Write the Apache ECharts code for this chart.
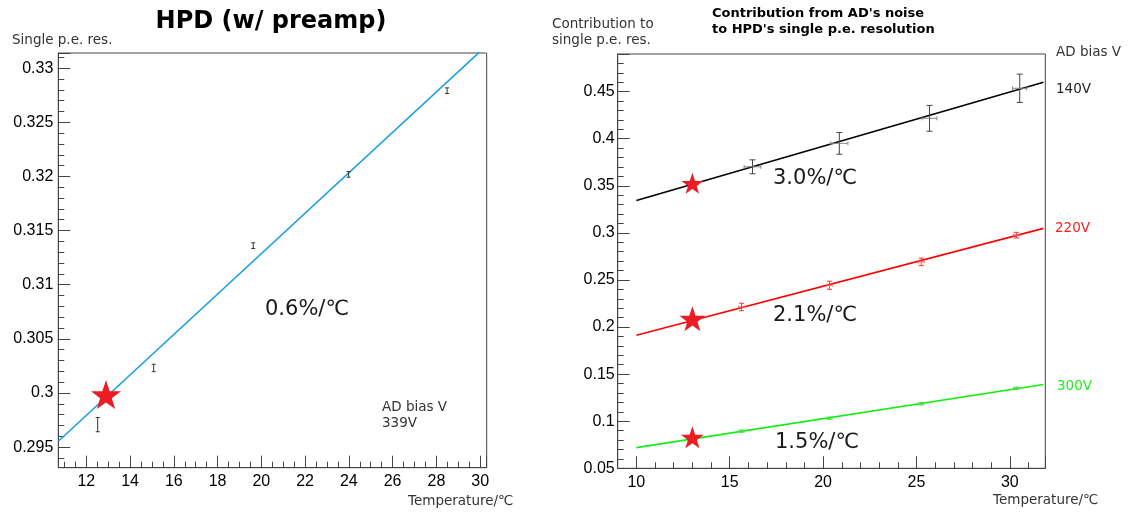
<!DOCTYPE html>
<html><head><meta charset="utf-8">
<script src="https://cdn.jsdelivr.net/npm/echarts@6/dist/echarts.min.js"></script>
<style>html,body{margin:0;padding:0;background:#fff}#c{width:1133px;height:512px}</style>
</head><body><div id="c"></div>
<script>
// ---- Left panel: HPD (w/ preamp) ----
const hpdTemp = [12.52, 15.08, 19.63, 23.99, 28.49];
const hpdRes  = [0.29708, 0.30231, 0.31361, 0.32019, 0.32792];
const hpdErr  = [0.00066, 0.00034, 0.00026, 0.00026, 0.00026];
const hpdFitT   = [10.72, 30.3];
const hpdFitRes = [0.29554, 0.33210];
const hpdStar = [12.9, 0.29985];
const hpdSlope = '0.6%/℃';
const hpdBias = ['AD bias V', '339V'];

// ---- Right panel: contribution from AD noise ----
const biasLabels = ['140V', '220V', '300V'];
const slopeLabels = ['3.0%/℃', '2.1%/℃', '1.5%/℃'];
const adTemp140 = [16.22, 20.87, 25.70, 30.53];
const ad140     = [0.3702, 0.3951, 0.4217, 0.4536];
const ad140TErr = [0.45, 0.46, 0.40, 0.38];
const ad140Err  = [0.0074, 0.0115, 0.0137, 0.0150];
const adTemp220 = [15.63, 20.34, 25.26, 30.35];
const ad220     = [0.2213, 0.2444, 0.2692, 0.2976];
const ad220TErr = [0.15, 0.15, 0.15, 0.15];
const ad220Err  = [0.0040, 0.0043, 0.0040, 0.0030];
const adTemp300 = [15.63, 20.34, 25.26, 30.35];
const ad300     = [0.0894, 0.1032, 0.1185, 0.1351];
const ad300TErr = [0.15, 0.15, 0.15, 0.15];
const ad300Err  = [0.0012, 0.0012, 0.0012, 0.0012];
const adFitT  = [10, 31.8];
const fit140  = [0.3343, 0.4601];
const fit220  = [0.1914, 0.3048];
const fit300  = [0.0720, 0.1390];
const starT   = 13.0;
const starRes = [0.3526, 0.2089, 0.0830];

const STAR = 'path://M50,0 L61.8,35.1 L98.1,35.1 L68.8,56.8 L79.4,91 L50,70 L20.6,91 L31.2,56.8 L1.9,35.1 L38.2,35.1 Z';
const AX = '#444';
const TXT = '"DejaVu Sans", Verdana, sans-serif';

function errRender(vColor, hColor, vCap, hCap) {
  return function (params, api) {
    const x = api.value(0), y = api.value(1), ex = api.value(2), ey = api.value(3);
    const c = api.coord([x, y]);
    const t = api.coord([x, y + ey]);
    const b = api.coord([x, y - ey]);
    const l = api.coord([x - ex, y]);
    const r = api.coord([x + ex, y]);
    const vs = { stroke: vColor, lineWidth: 1 };
    const hs = { stroke: hColor, lineWidth: 1 };
    const ch = [
      { type: 'line', shape: { x1: c[0], y1: t[1], x2: c[0], y2: b[1] }, style: vs },
      { type: 'line', shape: { x1: c[0] - vCap, y1: t[1], x2: c[0] + vCap, y2: t[1] }, style: vs },
      { type: 'line', shape: { x1: c[0] - vCap, y1: b[1], x2: c[0] + vCap, y2: b[1] }, style: vs }
    ];
    if (ex > 0) {
      ch.push({ type: 'line', shape: { x1: l[0], y1: c[1], x2: r[0], y2: c[1] }, style: hs });
      ch.push({ type: 'line', shape: { x1: l[0], y1: c[1] - hCap, x2: l[0], y2: c[1] + hCap }, style: hs });
      ch.push({ type: 'line', shape: { x1: r[0], y1: c[1] - hCap, x2: r[0], y2: c[1] + hCap }, style: hs });
    }
    return { type: 'group', children: ch };
  };
}

function zip4(a, b, c, d) { return a.map((v, i) => [v, b[i], c ? c[i] : 0, d[i]]); }
function pts(xs, ys) { return xs.map((v, i) => [v, ys[i]]); }

function xAxisCfg(grid, min, max, split, minor) {
  return {
    type: 'value', gridIndex: grid, min: min, max: max, splitNumber: split,
    axisLine: { show: true, lineStyle: { color: AX, width: 1 } },
    axisTick: { show: true, inside: true, length: 12, lineStyle: { color: AX } },
    minorTick: { show: true, splitNumber: minor, length: 6, lineStyle: { color: AX } },
    splitLine: { show: false },
    axisLabel: { showMinLabel: false, showMaxLabel: false, margin: 6, color: '#000',
      fontSize: 16, fontFamily: '"Liberation Sans", Arial, sans-serif' }
  };
}
function yAxisCfg(grid, min, max, split, showMin, margin) {
  return {
    type: 'value', gridIndex: grid, min: min, max: max, splitNumber: split,
    axisLine: { show: true, lineStyle: { color: AX, width: 1 } },
    axisTick: { show: true, inside: true, length: 12, lineStyle: { color: AX } },
    minorTick: { show: true, splitNumber: 5, length: 6, lineStyle: { color: AX } },
    splitLine: { show: false },
    axisLabel: { showMinLabel: showMin, showMaxLabel: false, margin: margin, color: '#000',
      fontSize: 16, fontFamily: '"Liberation Sans", Arial, sans-serif' }
  };
}

function txt(x, y, text, opts) {
  opts = opts || {};
  return {
    type: 'text', x: x, y: y, z: 100,
    style: {
      text: text,
      font: (opts.weight || 'normal') + ' ' + (opts.size || 13.5) + 'px ' + TXT,
      fill: opts.color || '#333',
      textAlign: opts.align || 'left', align: opts.align || 'left',
      textVerticalAlign: 'middle', verticalAlign: 'middle'
    }
  };
}

const chart = echarts.init(document.getElementById('c'), null, { renderer: 'canvas' });
chart.setOption({
  animation: false,
  backgroundColor: '#fff',
  grid: [
    { left: 58.3, top: 53, width: 428.4, height: 414.7, show: true, borderColor: AX, borderWidth: 1 },
    { left: 617.7, top: 54, width: 427.6, height: 414.3, show: true, borderColor: AX, borderWidth: 1 }
  ],
  xAxis: [
    xAxisCfg(0, 10.72, 30.3, 10, 4),
    xAxisCfg(1, 9, 31.9, 5, 5)
  ],
  yAxis: [
    yAxisCfg(0, 0.2931, 0.3314, 8, false, 5),
    yAxisCfg(1, 0.05, 0.49, 9, true, 3)
  ],
  series: [
    { type: 'line', xAxisIndex: 0, yAxisIndex: 0, data: pts(hpdFitT, hpdFitRes), showSymbol: false, clip: true,
      lineStyle: { color: '#1aa0e0', width: 1.6 }, z: 2 },
    { type: 'custom', xAxisIndex: 0, yAxisIndex: 0, data: zip4(hpdTemp, hpdRes, null, hpdErr),
      renderItem: errRender('#333', '#333', 2, 2), z: 3 },
    { type: 'scatter', xAxisIndex: 0, yAxisIndex: 0, data: [hpdStar], symbol: STAR, symbolSize: [30, 29],
      itemStyle: { color: '#ec1c24', opacity: 1 }, z: 10 },

    { type: 'line', xAxisIndex: 1, yAxisIndex: 1, data: pts(adFitT, fit140), showSymbol: false, clip: true,
      lineStyle: { color: '#000', width: 1.6 }, z: 2 },
    { type: 'line', xAxisIndex: 1, yAxisIndex: 1, data: pts(adFitT, fit220), showSymbol: false, clip: true,
      lineStyle: { color: '#ff0000', width: 1.6 }, z: 2 },
    { type: 'line', xAxisIndex: 1, yAxisIndex: 1, data: pts(adFitT, fit300), showSymbol: false, clip: true,
      lineStyle: { color: '#11ee11', width: 1.6 }, z: 2 },
    { type: 'custom', xAxisIndex: 1, yAxisIndex: 1, data: zip4(adTemp140, ad140, ad140TErr, ad140Err),
      renderItem: errRender('#444', '#888', 3, 2), z: 3 },
    { type: 'custom', xAxisIndex: 1, yAxisIndex: 1, data: zip4(adTemp220, ad220, ad220TErr, ad220Err),
      renderItem: errRender('#ff3333', '#ff6666', 2.5, 1.5), z: 3 },
    { type: 'custom', xAxisIndex: 1, yAxisIndex: 1, data: zip4(adTemp300, ad300, ad300TErr, ad300Err),
      renderItem: errRender('#33dd33', '#55dd55', 2, 1.5), z: 3 },
    { type: 'scatter', xAxisIndex: 1, yAxisIndex: 1, data: starRes.map(v => [starT, v]), symbol: STAR,
      symbolSize: function (v, p) { return [[22, 21], [26, 25], [23, 22]][p.dataIndex]; },
      itemStyle: { color: '#ec1c24', opacity: 1 }, z: 10 }
  ],
  graphic: [
    txt(271, 22, 'HPD (w/ preamp)', { weight: 'bold', size: 24, color: '#000', align: 'center' }),
    txt(12, 40, 'Single p.e. res.'),
    txt(265, 310, hpdSlope, { size: 21, color: '#1a1a1a' }),
    txt(382, 407, hpdBias[0]),
    txt(382, 423, hpdBias[1]),
    txt(408, 501, 'Temperature/℃'),

    txt(712, 13.5, "Contribution from AD's noise", { weight: 'bold', size: 13, color: '#000' }),
    txt(712, 30, "to HPD's single p.e. resolution", { weight: 'bold', size: 13, color: '#000' }),
    txt(552, 24, 'Contribution to'),
    txt(552, 40, 'single p.e. res.'),
    txt(1056, 52, 'AD bias V'),
    txt(1056, 89, biasLabels[0], { color: '#222' }),
    txt(1055, 228, biasLabels[1], { color: '#ff2020' }),
    txt(1057, 386, biasLabels[2], { color: '#22ee22' }),
    txt(773, 179, slopeLabels[0], { size: 21, color: '#1a1a1a' }),
    txt(773, 316, slopeLabels[1], { size: 21, color: '#1a1a1a' }),
    txt(775, 443, slopeLabels[2], { size: 21, color: '#1a1a1a' }),
    txt(993, 500, 'Temperature/℃')
  ]
});
</script></body></html>
